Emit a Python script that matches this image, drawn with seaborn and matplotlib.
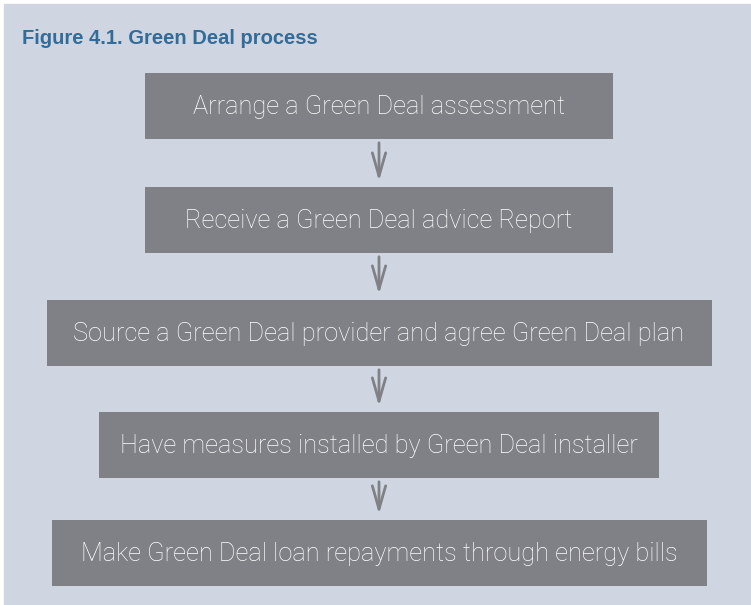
import matplotlib.pyplot as plt
import seaborn as sns
from matplotlib.patches import Rectangle

# flow steps, top to bottom
steps = [
    'Arrange a Green Deal assessment',
    'Receive a Green Deal advice Report',
    'Source a Green Deal provider and agree Green Deal plan',
    'Have measures installed by Green Deal installer',
    'Make Green Deal loan repayments through energy bills',
]
title = 'Figure 4.1. Green Deal process'

# layout (pixels)
box_widths = [468, 468, 665, 560, 655]
box_tops = [73, 187, 300, 412, 520]
box_h = 66
cx = 379

bg = '#d0d6e1'
box_col = '#808186'

sns.set_theme(style='white')
plt.rcParams['font.family'] = ['Roboto', 'DejaVu Sans']

fig = plt.figure(figsize=(7.51, 6.05), dpi=100)
fig.patch.set_facecolor('white')
ax = fig.add_axes([0, 0, 1, 1])
ax.set_xlim(0, 751)
ax.set_ylim(605, 0)
ax.axis('off')

ax.add_patch(Rectangle((4, 4), 747, 601, color=bg, zorder=0))

centers = [t + box_h / 2 for t in box_tops]
lefts = [cx - w / 2 for w in box_widths]
ax.barh(centers, box_widths, left=lefts, height=box_h, color=box_col,
        linewidth=0, zorder=1)

for s, yc in zip(steps, centers):
    ax.text(cx, yc + 1, s, ha='center', va='center', color='white',
            fontsize=18.3, fontweight='light', zorder=2)

# arrows between boxes
for i in range(len(steps) - 1):
    y0 = box_tops[i] + box_h + 1
    y1 = box_tops[i + 1] - 3
    ax.annotate('', xy=(cx, y1), xytext=(cx, y0),
                arrowprops=dict(arrowstyle='->,head_length=1.4,head_width=0.4',
                                color=box_col, lw=2.0), zorder=2)

ax.text(22, 38, title, ha='left', va='center', color='#336c98',
        fontsize=14.5, fontweight='bold', family=['Liberation Sans', 'DejaVu Sans'])

fig.savefig('out.png', dpi=100)
